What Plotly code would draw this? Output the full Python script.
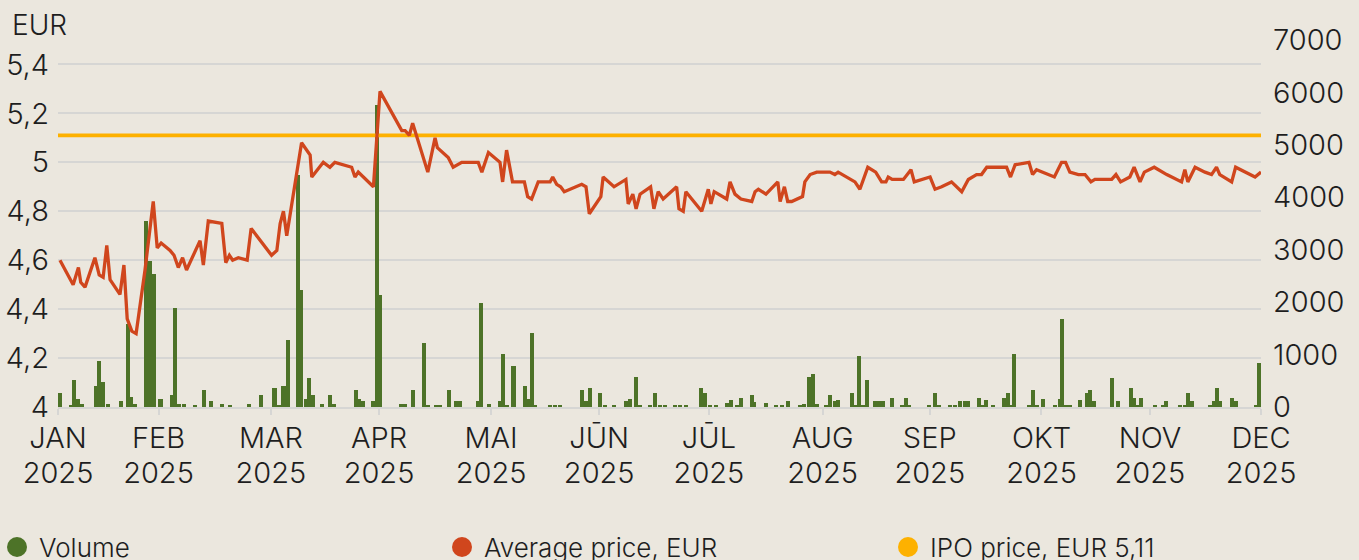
import plotly.graph_objects as go

# ---------------- data ----------------
# x positions are session positions along the year axis (0 = start of January, 365 = December tick)
price_day = [
    0.6, 4.6, 6.2, 6.9, 8.2, 11.2, 12.5, 13.7, 14.8, 15.8,
    18.8, 20.0, 21.0, 22.4, 23.7, 26.4, 28.9, 30.1, 31.3, 34.0,
    35.2, 36.5, 37.8, 39.0, 43.1, 44.1, 45.6, 49.7, 50.9, 52.0,
    53.0, 54.7, 57.4, 58.6, 64.8, 66.4, 67.4, 68.4, 69.4, 73.9,
    76.5, 77.0, 80.5, 82.5, 84.0, 89.1, 90.1, 91.1, 95.7, 97.7,
    104.3, 105.3, 106.6, 107.6, 112.2, 114.4, 115.1, 118.4, 119.9, 122.5,
    127.5, 128.6, 130.6, 134.1, 134.9, 136.1, 137.9, 141.5, 142.5, 143.7,
    145.7, 149.3, 150.1, 151.3, 152.5, 153.6, 158.9, 160.2, 161.2, 164.7,
    165.4, 168.7, 172.3, 173.0, 174.4, 175.4, 176.6, 179.8, 180.8, 182.1,
    183.6, 187.7, 188.4, 189.7, 190.5, 195.3, 197.3, 198.1, 199.1, 202.9,
    203.9, 205.4, 207.2, 210.5, 211.5, 212.5, 214.8, 218.4, 219.1, 220.4,
    221.4, 222.6, 225.9, 226.6, 228.2, 230.2, 234.2, 235.7, 236.7, 241.8,
    243.3, 245.7, 248.1, 249.9, 251.2, 251.9, 253.1, 256.5, 258.8, 259.8,
    264.6, 266.1, 268.1, 271.1, 274.2, 276.2, 278.7, 280.2, 281.8, 287.8,
    289.0, 290.4, 294.6, 295.7, 296.9, 298.9, 302.3, 304.5, 305.7, 307.0,
    309.6, 311.6, 313.4, 314.6, 319.7, 321.0, 322.4, 325.2, 326.5, 328.3,
    329.6, 332.6, 334.9, 336.4, 340.9, 341.9, 342.8, 345.0, 348.0, 350.0,
    351.5, 352.5, 356.1, 357.3, 363.2, 365.0,
]
price = [
    4.60, 4.50, 4.57, 4.51, 4.49, 4.61, 4.54, 4.53, 4.66, 4.52,
    4.46, 4.58, 4.36, 4.31, 4.30, 4.56, 4.84, 4.65, 4.67, 4.64,
    4.62, 4.57, 4.61, 4.56, 4.68, 4.58, 4.76, 4.75, 4.59, 4.62,
    4.60, 4.61, 4.60, 4.73, 4.62, 4.64, 4.75, 4.80, 4.70, 5.08,
    5.03, 4.94, 5.00, 4.98, 5.00, 4.98, 4.94, 4.96, 4.90, 5.29,
    5.13, 5.13, 5.11, 5.16, 4.96, 5.10, 5.06, 5.02, 4.98, 5.00,
    5.00, 4.96, 5.04, 5.00, 4.92, 5.05, 4.92, 4.92, 4.86, 4.85,
    4.92, 4.92, 4.94, 4.91, 4.90, 4.88, 4.91, 4.90, 4.79, 4.86,
    4.94, 4.90, 4.93, 4.83, 4.87, 4.81, 4.87, 4.90, 4.81, 4.88,
    4.85, 4.90, 4.81, 4.80, 4.88, 4.80, 4.89, 4.83, 4.88, 4.85,
    4.92, 4.87, 4.85, 4.84, 4.88, 4.89, 4.87, 4.92, 4.84, 4.90,
    4.84, 4.84, 4.86, 4.92, 4.95, 4.96, 4.96, 4.95, 4.96, 4.92,
    4.89, 4.98, 4.96, 4.92, 4.92, 4.94, 4.93, 4.93, 4.97, 4.92,
    4.94, 4.89, 4.90, 4.92, 4.88, 4.93, 4.95, 4.95, 4.98, 4.98,
    4.94, 4.99, 5.00, 4.95, 4.97, 4.96, 4.94, 5.00, 5.00, 4.96,
    4.95, 4.95, 4.92, 4.93, 4.93, 4.95, 4.92, 4.94, 4.98, 4.92,
    4.96, 4.98, 4.96, 4.95, 4.92, 4.97, 4.92, 4.98, 4.96, 4.95,
    4.98, 4.95, 4.92, 4.98, 4.94, 4.96,
]
vol_day = [
    0.5, 3.9, 4.9, 5.9, 7.3, 11.6, 12.5, 13.6, 15.2, 19.1,
    21.2, 22.1, 23.4, 26.8, 27.8, 29.1, 31.1, 34.6, 35.5, 36.7,
    38.2, 41.6, 44.2, 46.4, 49.8, 52.2, 57.9, 61.6, 65.7, 67.1,
    68.4, 69.7, 72.7, 73.8, 75.2, 76.1, 77.2, 80.1, 82.5, 83.8,
    90.3, 91.3, 92.5, 95.7, 96.7, 97.7, 104.1, 105.3, 107.7, 111.0,
    112.3, 114.7, 115.9, 118.6, 120.8, 121.8, 127.4, 128.4, 130.7, 134.1,
    135.1, 136.2, 138.2, 141.6, 142.7, 143.7, 144.7, 149.3, 150.8, 152.3,
    159.1, 160.2, 161.3, 164.5, 166.0, 168.7, 172.5, 173.5, 175.5, 176.6,
    179.6, 181.0, 182.6, 184.2, 187.2, 188.7, 190.5, 195.2, 196.3, 197.8,
    199.6, 203.0, 204.2, 206.0, 207.3, 210.5, 211.2, 214.8, 217.8, 219.7,
    221.5, 225.1, 226.3, 227.8, 229.0, 230.3, 233.0, 234.2, 235.7, 236.7,
    240.9, 242.0, 243.1, 244.2, 245.5, 247.9, 249.1, 250.3, 253.0, 256.1,
    257.3, 258.2, 264.3, 266.1, 267.3, 270.6, 272.2, 273.7, 275.2, 276.1,
    279.4, 280.6, 281.6, 283.7, 287.0, 288.2, 289.2, 290.1, 294.6, 295.8,
    297.0, 298.8, 302.5, 303.9, 304.6, 305.8, 307.0, 310.1, 312.1, 313.1,
    314.3, 319.8, 321.6, 325.5, 326.3, 327.7, 328.7, 332.8, 335.3, 336.2,
    340.5, 342.0, 342.9, 344.0, 349.5, 350.9, 351.6, 352.5, 356.3, 357.4,
    363.4, 364.4,
]
volume = [
    270, 30, 520, 160, 60, 410, 870, 470, 60, 110,
    1590, 200, 60, 3550, 2780, 2530, 160, 220, 1880, 50,
    50, 30, 320, 110, 60, 30, 60, 220, 360, 40,
    410, 1270, 4420, 2230, 160, 560, 220, 60, 220, 60,
    320, 160, 110, 115, 5760, 2130, 50, 50, 320, 1220,
    30, 30, 30, 320, 110, 110, 115, 1990, 65, 115,
    1020, 40, 780, 410, 160, 1420, 40, 30, 40, 30,
    320, 115, 370, 270, 30, 30, 115, 160, 570, 30,
    20, 270, 30, 30, 40, 40, 30, 370, 270, 30,
    30, 80, 130, 40, 170, 220, 95, 75, 30, 30,
    115, 40, 60, 570, 620, 60, 30, 220, 115, 130,
    270, 30, 970, 30, 520, 115, 115, 115, 170, 30,
    170, 30, 30, 270, 40, 30, 40, 115, 115, 115,
    180, 30, 130, 30, 180, 270, 30, 1020, 30, 320,
    30, 160, 30, 160, 1670, 40, 40, 130, 270, 320,
    115, 560, 115, 370, 180, 40, 180, 30, 30, 115,
    30, 30, 270, 115, 30, 115, 370, 115, 180, 115,
    30, 830,
]
ipo_price = 5.11
axis_span = [0, 365]
month_labels = ["JAN", "FEB", "MAR", "APR", "MAI", "JŪN", "JŪL", "AUG", "SEP", "OKT", "NOV", "DEC"]
month_pos = [0, 30.5, 64.6, 97.4, 131.4, 164.2, 197.5, 232, 264.5, 298.4, 331.3, 365]
year = "2025"
price_ticks = [4, 4.2, 4.4, 4.6, 4.8, 5, 5.2, 5.4]
volume_ticks = [0, 1000, 2000, 3000, 4000, 5000, 6000, 7000]
legend_names = ["Volume", "Average price, EUR", "IPO price, EUR " + f"{ipo_price:.2f}".replace(".", ",")]

# ---------------- style ----------------
BG = "#EBE7DE"
GREEN = "#4D7328"
RED = "#D0461D"
YELLOW = "#FDB100"
GRID = "#D6D6D4"
TEXT = "#1E1E1E"
FONT = "Inter"
FS = 29
W, H = 1359, 560
ML, MR, MT, MB = 58, 98, 40, 153
PW, PH = W - ML - MR, H - MT - MB

fig = go.Figure()
fig.add_trace(go.Bar(
    x=vol_day, y=volume, yaxis="y", width=1.25,
    marker=dict(color=GREEN, line=dict(width=0)), showlegend=False, hoverinfo="skip",
))
fig.add_trace(go.Scatter(
    x=axis_span, y=[ipo_price, ipo_price], yaxis="y2", mode="lines",
    line=dict(color=YELLOW, width=3.6), showlegend=False,
))
fig.add_trace(go.Scatter(
    x=price_day, y=price, yaxis="y2", mode="lines",
    line=dict(color=RED, width=3.3), showlegend=False,
))
# invisible trace to activate the year axis
fig.add_trace(go.Scatter(x=axis_span, y=[None, None], xaxis="x2", yaxis="y", showlegend=False, hoverinfo="skip"))

# legend drawn as circles + text (reference uses large round swatches)
legend_x = [17, 462, 908]
legend_y = 547
colors = [GREEN, RED, YELLOW]
shapes, annotations = [], []
for px, name, col in zip(legend_x, legend_names, colors):
    xp = (px - ML) / PW
    yp = (H - MB - legend_y) / PH
    shapes.append(dict(
        type="circle", xref="paper", yref="paper", xsizemode="pixel", ysizemode="pixel",
        xanchor=xp, yanchor=yp, x0=-10, x1=10, y0=-10, y1=10,
        fillcolor=col, line=dict(width=0),
    ))
    annotations.append(dict(
        text=name, xref="paper", yref="paper", x=xp, y=yp, xanchor="left", yanchor="middle",
        xshift=20, showarrow=False, font=dict(size=26),
    ))
annotations.append(dict(
    text="EUR", xref="paper", yref="paper", x=0, y=1, xanchor="left", yanchor="middle",
    xshift=-48, yshift=15, showarrow=False, font=dict(size=28),
))

fig.update_layout(
    width=W, height=H,
    paper_bgcolor=BG, plot_bgcolor=BG,
    separators=", ",
    font=dict(family=FONT, size=FS, color=TEXT, weight=300),
    margin=dict(l=ML, r=MR, t=MT, b=MB, pad=0),
    bargap=0,
    showlegend=False,
    xaxis=dict(
        range=axis_span, tickmode="array", tickvals=month_pos, ticktext=month_labels,
        showgrid=False, zeroline=False, showline=True, linecolor=GRID, linewidth=2,
        ticks="outside", ticklen=6, tickwidth=1.5, tickcolor=GRID,
        ticklabelstandoff=-2, automargin=False,
    ),
    xaxis2=dict(
        overlaying="x", anchor="y", side="bottom", matches="x", range=axis_span,
        tickmode="array", tickvals=month_pos, ticktext=[year] * len(month_pos),
        showgrid=False, zeroline=False, showline=False, ticks="",
        ticklabelstandoff=46, automargin=False,
    ),
    yaxis=dict(
        side="right", range=[0, 7000], tickmode="array", tickvals=volume_ticks,
        showgrid=False, zeroline=False, showline=False, ticks="",
        ticklabelstandoff=11, automargin=False,
    ),
    yaxis2=dict(
        overlaying="y", side="left", range=[4, 5.5], tickmode="array", tickvals=price_ticks,
        showgrid=True, gridcolor=GRID, gridwidth=1.5, zeroline=False, showline=False, ticks="",
        ticklabelstandoff=8, automargin=False,
    ),
    shapes=shapes,
    annotations=annotations,
)

fig.write_html(
    "out.html",
    config={"displayModeBar": False},
    post_script="document.body.style.margin='0';document.body.style.overflow='hidden';",
)
